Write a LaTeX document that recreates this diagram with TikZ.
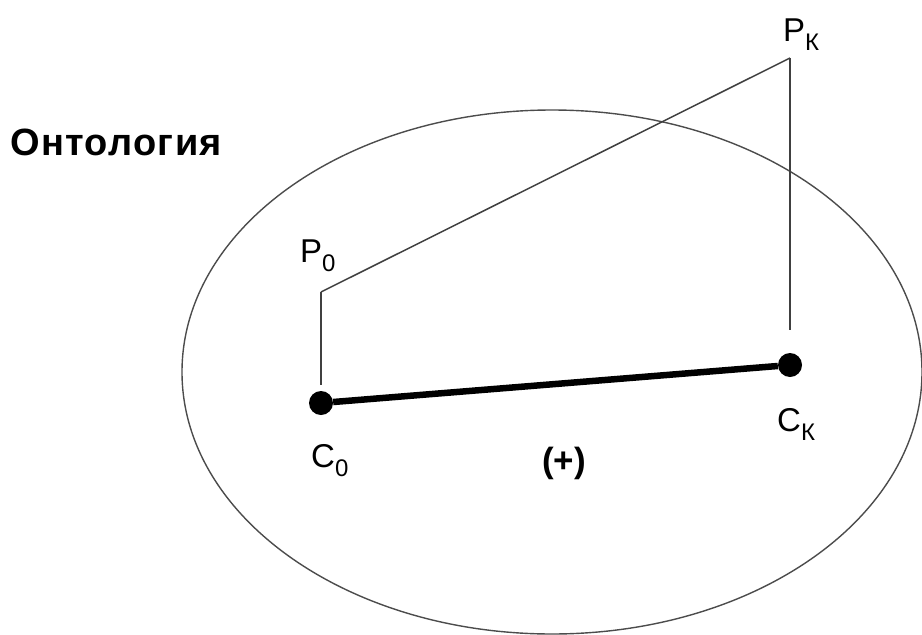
\documentclass[tikz,border=0pt]{standalone}
\usepackage{fontspec}
\setmainfont{Liberation Sans}
\usetikzlibrary{positioning}

\newcommand{\ptlabel}[2]{#1\raisebox{-9pt}{\fontsize{24}{24}\selectfont #2}}

\begin{document}
\begin{tikzpicture}[
x=1pt, y=-1pt,
dot/.style={circle, fill=black, inner sep=0pt, minimum size=24pt},
wire/.style={draw=black!75, line width=1.5pt},
bond/.style={draw=black, line width=6.5pt},
lbl/.style={inner sep=0pt, anchor=base west, font=\fontsize{33}{33}\selectfont}
]
\useasboundingbox (0,0) rectangle (922,635);
% ontology region
\draw[draw=black!70, line width=1.4pt] (552,372) ellipse [x radius=370pt, y radius=262pt];
\node[inner sep=0pt, anchor=base west, font=\fontsize{38}{38}\selectfont\bfseries\addfontfeature{LetterSpace=3.5}] (onto) at (10,155) {Онтология};
% concepts and their properties
\node[dot] (c0) at (321,403) {};
\node[dot] (ck) at (790,365) {};
\coordinate (p0) at (321,292);
\coordinate (pk) at (790,58);
\draw[bond] (c0) -- (ck);
\draw[wire, shorten >=6pt] (p0) -- (c0);
\draw[wire] (p0) -- (pk);
\draw[wire, shorten >=23pt] (pk) -- (ck);
% labels
\node[lbl] (lp0) at (300,262) {\ptlabel{P}{0}};
\node[lbl] (lpk) at (783,41) {\ptlabel{P}{К}};
\node[lbl] (lc0) at (311,467) {\ptlabel{C}{0}};
\node[lbl] (lck) at (777,431) {\ptlabel{C}{К}};
\node[inner sep=0pt, anchor=base, font=\fontsize{35}{35}\selectfont\bfseries] (plus) at (564,472) {(+)};
\end{tikzpicture}
\end{document}
